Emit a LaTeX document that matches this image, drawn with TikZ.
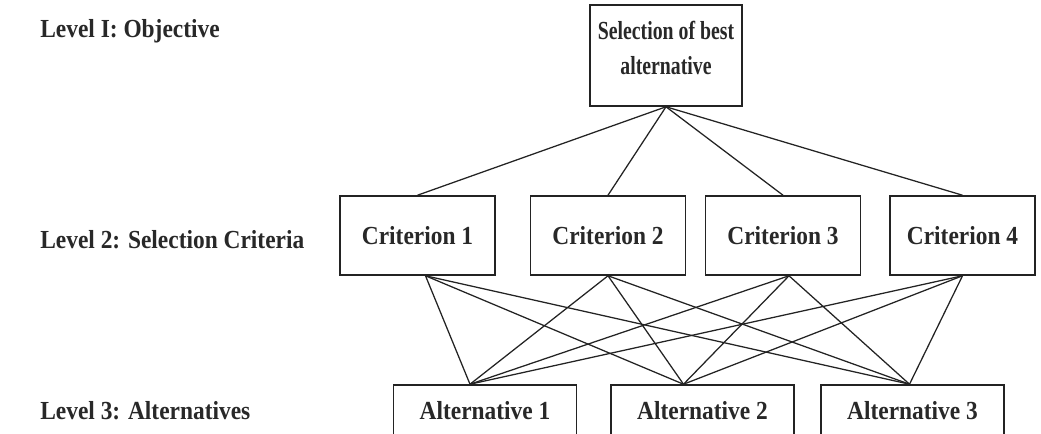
\documentclass[tikz,border=0pt]{standalone}
\usepackage{fontspec}
\setmainfont{Liberation Serif}[FakeStretch=0.9]
\newfontfamily\goalfont{Liberation Serif}[FakeStretch=0.76]
\usepackage{xcolor}
\usepackage{tikz}
\usetikzlibrary{positioning}
\definecolor{boxline}{RGB}{35, 35, 35}
\definecolor{textgray}{RGB}{40, 40, 40}

\begin{document}
\begin{tikzpicture}[
    x=0.025cm, y=-0.025cm,
    level/.style={anchor=west, font=\fontsize{18.5}{22}\selectfont\bfseries, text=textgray, inner sep=0pt},
    goal/.style={draw=boxline, line width=1.1pt, minimum width=3.8cm, minimum height=2.525cm,
                 inner sep=2pt, text depth=0.4cm, align=center,
                 font=\goalfont\fontsize{18.5}{25}\selectfont\bfseries, text=textgray},
    crit/.style={draw=boxline, line width=1.1pt, minimum width=3.875cm, minimum height=1.975cm,
                 font=\fontsize{18.5}{22}\selectfont\bfseries, text=textgray},
    alt/.style={draw=boxline, line width=1.1pt, minimum width=4.575cm, minimum height=1.3cm,
                font=\fontsize{18.5}{22}\selectfont\bfseries, text=textgray},
    link/.style={draw=boxline, line width=0.9pt}
]
    \useasboundingbox (0,0) rectangle (1041,434);

    \node[level] (lvl1) at (40,31) {Level I: Objective};
    \node[level] (lvl2) at (40,240) {Level 2: Selection Criteria};
    \node[level] (lvl3) at (40,411) {Level 3: Alternatives};

    \node[goal] (best) at (666,55.5) {Selection of best\\alternative};

    \node[crit] (crit1) at (417.5,235.5) {Criterion 1};
    \node[crit] (crit2) at (608,235.5) {Criterion 2};
    \node[crit] (crit3) at (783,235.5) {Criterion 3};
    \node[crit, minimum width=3.625cm] (crit4) at (962.5,235.5) {Criterion 4};

    \node[alt] (alt1) at (485,411) {Alternative 1};
    \node[alt] (alt2) at (702.5,411) {Alternative 2};
    \node[alt] (alt3) at (912.5,411) {Alternative 3};

    \draw[link] (best.south) -- (crit1.north);
    \draw[link] (best.south) -- (crit2.north);
    \draw[link] (best.south) -- (crit3.north);
    \draw[link] (best.south) -- (crit4.north);

    \draw[link] ([xshift=0.2cm]crit1.south) -- ([xshift=-0.375cm]alt1.north);
    \draw[link] ([xshift=0.2cm]crit1.south) -- ([xshift=-0.475cm]alt2.north);
    \draw[link] ([xshift=0.2cm]crit1.south) -- ([xshift=-0.075cm]alt3.north);
    \draw[link] (crit2.south) -- ([xshift=-0.375cm]alt1.north);
    \draw[link] (crit2.south) -- ([xshift=-0.475cm]alt2.north);
    \draw[link] (crit2.south) -- ([xshift=-0.075cm]alt3.north);
    \draw[link] ([xshift=0.15cm]crit3.south) -- ([xshift=-0.375cm]alt1.north);
    \draw[link] ([xshift=0.15cm]crit3.south) -- ([xshift=-0.475cm]alt2.north);
    \draw[link] ([xshift=0.15cm]crit3.south) -- ([xshift=-0.075cm]alt3.north);
    \draw[link] (crit4.south) -- ([xshift=-0.375cm]alt1.north);
    \draw[link] (crit4.south) -- ([xshift=-0.475cm]alt2.north);
    \draw[link] (crit4.south) -- ([xshift=-0.075cm]alt3.north);
\end{tikzpicture}
\end{document}
